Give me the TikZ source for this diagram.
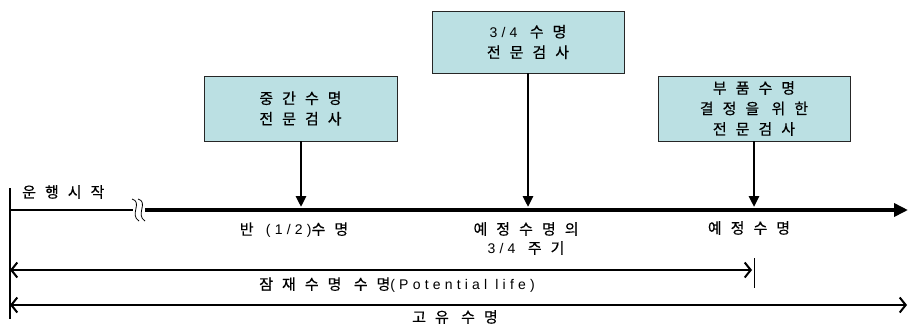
\documentclass[tikz,border=0pt]{standalone}
\usepackage{fontspec}
\newfontfamily\krfont[LetterSpace=60,FakeBold=0.4]{Noto Sans CJK KR}
\newfontfamily\latfont[LetterSpace=30]{Liberation Sans}
\newcommand{\lat}[1]{{\latfont\fontsize{14}{19}\selectfont #1}}
\usetikzlibrary{arrows.meta,positioning}
\definecolor{boxcyan}{RGB}{187,224,227}

\begin{document}
\begin{tikzpicture}[
    x=1pt, y=-1pt,
    box/.style={draw=black!85, fill=boxcyan, align=center, minimum width=192pt, minimum height=65pt, inner sep=0pt, font=\krfont\fontsize{15}{20.5}\selectfont},
    lbl/.style={align=center, inner sep=0pt, font=\krfont\fontsize{15}{19}\selectfont},
    down/.style={-{Triangle[length=11pt,width=10pt]}, line width=2.8pt},
    span/.style={{Straight Barb[length=6pt,width=15pt]}-{Straight Barb[length=6pt,width=15pt]}, line width=2pt}
]
\useasboundingbox (0,0) rectangle (909,325);

% inspection boxes
\node[box, minimum width=193pt] (mid) at (300.5,108.5) {중간수명\\전문검사};
\node[box, minimum height=62pt] (three) at (528,42) {\lat{3/4} 수명\\전문검사};
\node[box] (part) at (754,108.5) {부품수명\\결정을 위한\\전문검사};

% time axis
\coordinate (t0) at (9.5,210);
\coordinate (cut) at (133,210);
\coordinate (cut2) at (145,210);
\coordinate (tend) at (908,210);
\draw[line width=1.8pt] (t0) -- (cut);
\draw[line width=4.5pt, -{Triangle[length=14pt,width=13pt]}] (cut2) -- (tend);
\draw[line width=0.8pt] (132,199) .. controls (143,202) and (129,215) .. (139,221);
\draw[line width=0.8pt] (138,199) .. controls (149,202) and (135,215) .. (145,221);
\draw[line width=2pt] (9.5,188) -- (9.5,319);
\node[lbl, anchor=west] (go) at (22,192) {운행시작};

% arrows onto the axis
\coordinate (mhit) at (301,207);
\coordinate (thit) at (528,207);
\coordinate (phit) at (754,207);
\draw[down] (mid.south -| mhit) -- (mhit);
\draw[down] (three.south) -- (thit);
\draw[down] (part.south) -- (phit);

% axis labels
\node[lbl] (half) at (294,230) {반 \lat{(1/2)}수명};
\node[lbl] (qtr) at (526,238.5) {예정수명의\\\lat{3/4} 주기};
\node[lbl] (plan) at (749,228) {예정수명};

% life spans
\coordinate (pa) at (10,270);
\coordinate (pb) at (752,270);
\coordinate (ta) at (754,258);
\coordinate (tb) at (754,288);
\coordinate (fa) at (10,305);
\coordinate (fb) at (907,305);
\draw[span] (pa) -- (pb);
\draw[line width=1pt] (ta) -- (tb);
\node[lbl] (pot) at (397,285) {잠재수명 수명\lat{(Potential life)}};
\draw[span] (fa) -- (fb);
\node[lbl] (own) at (455,317) {고유 수명};
\end{tikzpicture}
\end{document}
